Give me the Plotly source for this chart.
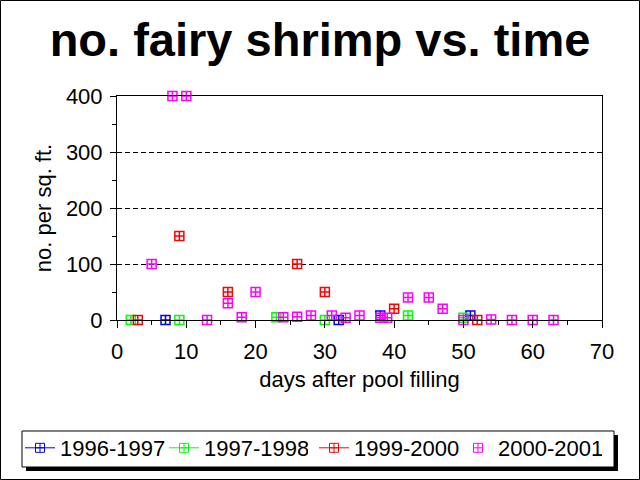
import plotly.graph_objects as go

# ---- data ----
series_names = ["1996-1997", "1997-1998", "1999-2000", "2000-2001"]
colors = ["#0000FF", "#00FF00", "#FF0000", "#FF00FF"]

days_9697 = [7, 32, 38, 51]
vals_9697 = [0, 0, 8, 8]

days_9798 = [2, 9, 23, 30, 42, 50]
vals_9798 = [0, 0, 5, 0, 8, 4]

days_9900 = [3, 9, 16, 26, 30, 40, 52]
vals_9900 = [0, 150, 50, 100, 50, 20, 0]

days_0001 = [5, 8, 10, 13, 16, 18, 20, 24, 26, 28, 31, 33, 35, 38, 39, 42, 45, 47, 50, 54, 57, 60, 63]
vals_0001 = [100, 400, 400, 0, 30, 5, 50, 5, 6, 8, 8, 4, 8, 4, 4, 40, 40, 20, 0, 1, 0, 0, 0]

x_ticks = [0, 10, 20, 30, 40, 50, 60, 70]
y_ticks = [0, 100, 200, 300, 400]

all_x = [days_9697, days_9798, days_9900, days_0001]
all_y = [vals_9697, vals_9798, vals_9900, vals_0001]
legend_has_line = [True, True, True, False]
legend_group = ["legend", "legend", "legend2", "legend2"]

FONT = "Arial, Liberation Sans, sans-serif"

fig = go.Figure()
for name, col, xs, ys in zip(series_names, colors, all_x, all_y):
    fig.add_trace(go.Scatter(
        x=xs, y=ys, mode="markers", name=name, showlegend=False,
        cliponaxis=False,
        marker=dict(symbol="square-cross-open", size=9, color=col,
                    line=dict(color=col, width=1.5)),
    ))
# legend entries (Excel style: line through marker for first three)
for name, col, has_line, lg in zip(series_names, colors, legend_has_line, legend_group):
    fig.add_trace(go.Scatter(
        x=[None], y=[None], mode="lines+markers" if has_line else "markers",
        name=name, showlegend=True, legend=lg,
        line=dict(color=col, width=1),
        marker=dict(symbol="square-cross-open", size=9, color=col,
                    line=dict(color=col, width=1)),
    ))

L, R, T, B = 117, 602, 96, 320
pw, ph = R - L, B - T
def px(x):
    return (x - L) / pw
def py(y):
    return (B - y) / ph

shapes = [
    # outer frame
    dict(type="rect", xref="paper", yref="paper", x0=px(0.5), x1=px(639.5),
         y0=py(479.5), y1=py(0.5), line=dict(color="black", width=1), layer="below"),
    # legend shadow
    dict(type="rect", xref="paper", yref="paper", x0=px(26), x1=px(618),
         y0=py(471), y1=py(435), fillcolor="black", line=dict(width=0), layer="below"),
    # legend box
    dict(type="rect", xref="paper", yref="paper", x0=px(22), x1=px(614),
         y0=py(467), y1=py(431), fillcolor="white", line=dict(color="black", width=1), layer="below"),
]

legend_common = dict(orientation="h", xref="container", yref="container",
                     xanchor="left", y=1 - 448 / 480, yanchor="middle",
                     bgcolor="rgba(0,0,0,0)", borderwidth=0,
                     font=dict(size=22, family=FONT, color="black"), itemwidth=30,
                     entrywidthmode="pixels", entrywidth=99)

fig.update_layout(
    width=640, height=480,
    margin=dict(l=L, r=640 - R, t=T, b=480 - B, pad=0),
    paper_bgcolor="white", plot_bgcolor="white",
    font=dict(family=FONT, color="black", size=22),
    title=dict(text="<b>no. fairy shrimp vs. time</b>", font=dict(size=47, family=FONT, color="black"),
               x=0.5, xref="container", xanchor="center",
               y=1 - 40 / 480, yref="container", yanchor="middle"),
    xaxis=dict(range=[0, 70], tickvals=x_ticks, showgrid=False, zeroline=False,
               showline=True, linecolor="black", linewidth=1, mirror=True,
               ticks="outside", ticklen=7, tickcolor="black", tickwidth=1,
               ticklabelstandoff=5,
               minor=dict(dtick=5, ticks="outside", ticklen=4, tickcolor="black", showgrid=False),
               tickfont=dict(size=22, family=FONT),
               title=dict(text="days after pool filling", font=dict(size=22, family=FONT), standoff=8)),
    yaxis=dict(range=[0, 400], tickvals=y_ticks, showgrid=True, gridcolor="black", gridwidth=1,
               griddash="5px,3px", zeroline=False,
               showline=True, linecolor="black", linewidth=1, mirror=True,
               ticks="outside", ticklen=6, tickcolor="black", tickwidth=1,
               ticklabelstandoff=3,
               minor=dict(dtick=50, ticks="outside", ticklen=4, tickcolor="black", showgrid=False),
               tickfont=dict(size=22, family=FONT),
               title=dict(text="no. per sq. ft.", font=dict(size=22, family=FONT), standoff=8)),
    legend=dict(x=20 / 640, **legend_common),
    legend2=dict(x=314 / 640, **legend_common),
    shapes=shapes,
)

fig.write_html("out.html")
